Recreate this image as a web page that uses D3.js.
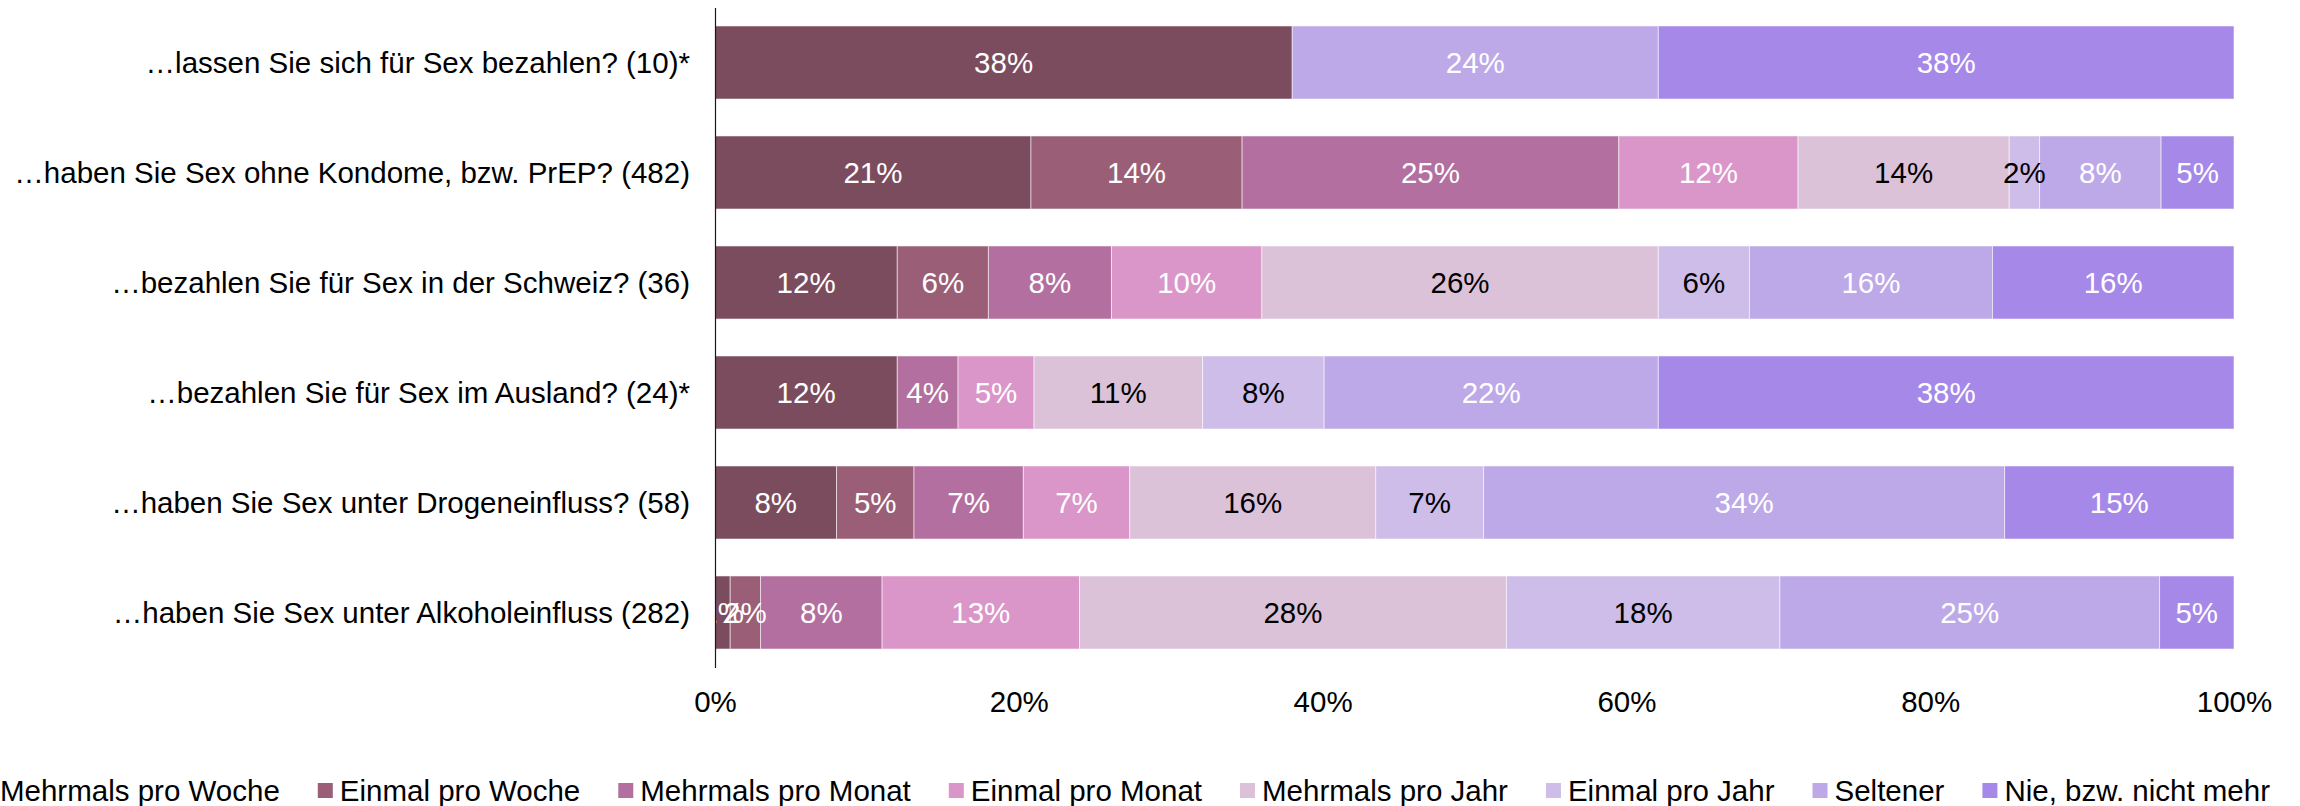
<!DOCTYPE html>
<html>
<head>
<meta charset="utf-8">
<script src="https://cdn.jsdelivr.net/npm/d3@7"></script>
<style>
  html, body { margin: 0; padding: 0; background: #fff; }
  svg { display: block; font-family: "Liberation Sans", Arial, sans-serif; }
</style>
</head>
<body>
<svg id="chart" width="2300" height="806"></svg>
<script>
// Frequency questions, one row per question (sample size in brackets)
const categories = [
  "…lassen Sie sich für Sex bezahlen? (10)*",
  "…haben Sie Sex ohne Kondome, bzw. PrEP? (482)",
  "…bezahlen Sie für Sex in der Schweiz? (36)",
  "…bezahlen Sie für Sex im Ausland? (24)*",
  "…haben Sie Sex unter Drogeneinfluss? (58)",
  "…haben Sie Sex unter Alkoholeinfluss (282)"
];

const seriesNames = [
  "Mehrmals pro Woche", "Einmal pro Woche", "Mehrmals pro Monat", "Einmal pro Monat",
  "Mehrmals pro Jahr", "Einmal pro Jahr", "Seltener", "Nie, bzw. nicht mehr"
];

const seriesColors = [
  "#7b4c5e", "#9a5f77", "#b26f9f", "#da96c8",
  "#dcc2d8", "#cdbde8", "#bda9e7", "#a688e8"
];

// Series whose labels are printed in black (light fills)
const darkLabelSeries = ["Mehrmals pro Jahr", "Einmal pro Jahr"];

// Shares in percent, one value per question, in the order of `categories`
const mehrmalsProWoche = [38.0, 20.8, 12.0, 12.0, 8.0, 1.0];
const einmalProWoche   = [0,    13.9,  6.0,  0,    5.1, 2.0];
const mehrmalsProMonat = [0,    24.8,  8.1,  4.0,  7.2, 8.0];
const einmalProMonat   = [0,    11.8,  9.9,  5.0,  7.0, 13.0];
const mehrmalsProJahr  = [0,    13.9, 26.1, 11.1, 16.2, 28.1];
const einmalProJahr    = [0,     2.0,  6.0,  8.0,  7.1, 18.0];
const seltener         = [24.1,  8.0, 16.0, 22.0, 34.3, 25.0];
const nieMehr          = [37.9,  4.8, 15.9, 37.9, 15.1,  4.9];

const xTicks = [0, 20, 40, 60, 80, 100];

const seriesValues = [
  mehrmalsProWoche, einmalProWoche, mehrmalsProMonat, einmalProMonat,
  mehrmalsProJahr, einmalProJahr, seltener, nieMehr
];

// Build row objects for d3.stack
const rows = categories.map((c, i) => {
  const r = { category: c };
  seriesNames.forEach((s, j) => { r[s] = seriesValues[j][i]; });
  return r;
});

const stacked = d3.stack().keys(seriesNames)(rows);

const svg = d3.select("#chart");
const FONT = 29.5;

const x = d3.scaleLinear().domain([0, 100]).range([715, 2234]);
const y = d3.scaleBand()
  .domain(categories)
  .range([7.5, 667.5])
  .paddingInner(0.336)
  .paddingOuter(0.168);

const color = d3.scaleOrdinal().domain(seriesNames).range(seriesColors);

// Bars
const layer = svg.append("g").selectAll("g")
  .data(stacked)
  .join("g")
  .attr("fill", d => color(d.key));

layer.selectAll("rect")
  .data(d => d.map(v => ({ key: d.key, v })))
  .join("rect")
  .attr("x", d => x(d.v[0]))
  .attr("y", d => y(d.v.data.category))
  .attr("width", d => Math.max(0, x(d.v[1]) - x(d.v[0])))
  .attr("height", y.bandwidth())
  .attr("stroke", "rgba(255,255,255,0.55)")
  .attr("stroke-width", 1);

// Value labels centred in each segment
const labels = svg.append("g")
  .attr("font-size", FONT)
  .attr("text-anchor", "middle");

stacked.forEach(s => {
  s.forEach(v => {
    const val = v[1] - v[0];
    if (val <= 0) return;
    labels.append("text")
      .attr("x", (x(v[0]) + x(v[1])) / 2)
      .attr("y", y(v.data.category) + y.bandwidth() / 2 + FONT * 0.358)
      .attr("fill", darkLabelSeries.includes(s.key) ? "#000" : "#fff")
      .text(Math.round(val) + "%");
  });
});

// Category axis
const yAxis = svg.append("g")
  .attr("transform", `translate(${x(0)},0)`)
  .call(d3.axisLeft(y).tickSize(0).tickSizeOuter(0).tickPadding(25));
yAxis.select(".domain").attr("stroke", "#1a1a1a").attr("stroke-width", 1.2);
yAxis.selectAll("text")
  .attr("font-size", FONT)
  .attr("font-family", "Liberation Sans, Arial, sans-serif")
  .attr("fill", "#000")
  .attr("dy", null)
  .attr("y", FONT * 0.358);

// Percentage axis
const xAxis = svg.append("g")
  .attr("transform", "translate(0,667)")
  .call(d3.axisBottom(x).tickValues(xTicks).tickFormat(d => d + "%").tickSize(0).tickPadding(24));
xAxis.select(".domain").remove();
xAxis.selectAll("text")
  .attr("font-size", FONT)
  .attr("font-family", "Liberation Sans, Arial, sans-serif")
  .attr("fill", "#000");

// Legend, centred under the chart
const legend = svg.append("g").attr("font-size", FONT);
const SW = 15, SW_GAP = 7, ITEM_GAP = 38, LEG_Y = 790.5;
const items = seriesNames.map(name => {
  const g = legend.append("g");
  g.append("rect").attr("width", SW).attr("height", SW).attr("y", LEG_Y - SW / 2).attr("fill", color(name));
  const t = g.append("text").attr("x", SW + SW_GAP).attr("y", LEG_Y + FONT * 0.358).attr("fill", "#000").text(name);
  return { g, w: SW + SW_GAP + t.node().getComputedTextLength() };
});
const total = d3.sum(items, d => d.w) + ITEM_GAP * (items.length - 1);
let cx = 1124 - total / 2;
items.forEach(it => {
  it.g.attr("transform", `translate(${cx},0)`);
  cx += it.w + ITEM_GAP;
});
</script>
</body>
</html>
